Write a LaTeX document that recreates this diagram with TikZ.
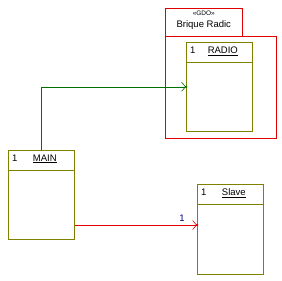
\documentclass[tikz,border=0pt]{standalone}
\usepackage{fontspec}
\setmainfont{Liberation Sans}
\usetikzlibrary{arrows.meta,positioning,calc}
\definecolor{olivebox}{HTML}{808000}
\definecolor{pkgred}{HTML}{E00000}
\definecolor{linkgreen}{HTML}{007000}
\definecolor{labelnavy}{HTML}{000080}

\begin{document}
\begin{tikzpicture}[
  x=1pt, y=-1pt,
  font=\fontsize{9.5}{11}\selectfont,
  classbox/.style={draw=olivebox, semithick, minimum width=66pt, minimum height=89pt, inner sep=0pt, anchor=north west},
  pkgbox/.style={draw=pkgred, semithick, inner sep=0pt, anchor=north west},
  link/.style={-{Straight Barb[length=4pt,width=9pt]}, semithick}
]
  \useasboundingbox (0,0) rectangle (282,281);

  % package
  \node[pkgbox, minimum width=77pt, minimum height=28pt] (pkgtab) at (165,8) {};
  \node[pkgbox, minimum width=111pt, minimum height=102pt] (pkg) at (165,36) {};
  \node[font=\fontsize{6.5}{7}\selectfont] (stereo) at ($(pkgtab.north)+(0,5.5)$) {«GDO»};
  \node (pkgname) at ($(pkgtab.north)+(0,17)$) {Brique Radic};

  % classes
  \node[classbox] (radio) at (186,42) {};
  \node[classbox] (main) at (8,150) {};
  \node[classbox, minimum height=90pt] (slave) at (197,184) {};
  \foreach \c/\t in {radio/RADIO, main/MAIN, slave/Slave} {
    \draw[olivebox, semithick] ($(\c.north west)+(0,20)$) -- ($(\c.north east)+(0,20)$);
    \node[anchor=west, inner sep=0pt] at ($(\c.north west)+(4,8)$) {1};
    \node at ($(\c.north)+(3.5,9)$) {\underline{\t}};
  }

  % links
  \draw[link, linkgreen] (main.north) |- (radio.west);
  \fill[linkgreen] (radio.west) circle (1.3pt);
  \coordinate (slavein) at ($(slave.north west)+(0,41)$);
  \draw[link, pkgred] (main.east |- slavein) -- (slavein);
  \fill[pkgred] (slavein) circle (1.3pt);
  \node[labelnavy] (mult) at (182,218) {1};
\end{tikzpicture}
\end{document}
